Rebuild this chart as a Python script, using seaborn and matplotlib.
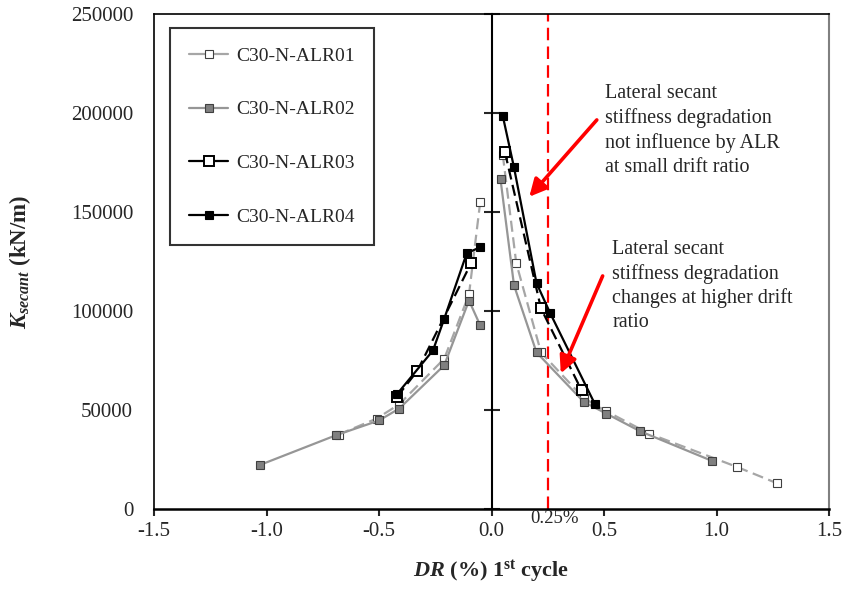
import numpy as np
import pandas as pd
import matplotlib
matplotlib.use("Agg")
import matplotlib.pyplot as plt
from matplotlib.lines import Line2D
import seaborn as sns

# ---------------- data ----------------
series_names = ["C30-N-ALR01", "C30-N-ALR02", "C30-N-ALR03", "C30-N-ALR04"]

alr01_neg_dr = [-0.68, -0.51, -0.41, -0.21, -0.10, -0.05]
alr01_neg_k = [37600, 45700, 52900, 75900, 108400, 155200]
alr01_pos_dr = [0.05, 0.11, 0.22, 0.41, 0.51, 0.70, 1.09, 1.27]
alr01_pos_k = [179000, 124200, 79100, 56000, 49400, 38100, 21300, 12950]

alr02_neg_dr = [-1.03, -0.69, -0.50, -0.41, -0.21, -0.10, -0.05]
alr02_neg_k = [22200, 37300, 44700, 50750, 72600, 105300, 92700]
alr02_pos_dr = [0.04, 0.10, 0.20, 0.41, 0.51, 0.66, 0.98]
alr02_pos_k = [166500, 113000, 79100, 54100, 48200, 39300, 24300]

alr03_neg_dr = [-0.42, -0.33, -0.09]
alr03_neg_k = [56600, 69700, 124300]
alr03_pos_dr = [0.06, 0.22, 0.40]
alr03_pos_k = [180100, 101300, 60000]

alr04_neg_dr = [-0.42, -0.26, -0.21, -0.11, -0.05]
alr04_neg_k = [58000, 80100, 96100, 129200, 132200]
alr04_pos_dr = [0.05, 0.10, 0.20, 0.26, 0.46]
alr04_pos_k = [198600, 172500, 114100, 99100, 52900]

x_ticks = [-1.5, -1.0, -0.5, 0.0, 0.5, 1.0, 1.5]
y_ticks = [0, 50000, 100000, 150000, 200000, 250000]
limit_dr = 0.25

note1 = "Lateral secant\nstiffness degradation\nnot influence by ALR\nat small drift ratio"
note2 = "Lateral secant\nstiffness degradation\nchanges at higher drift\nratio"


def branch_frame(neg_x, neg_y, pos_x, pos_y):
    return pd.DataFrame({
        "DR": list(neg_x) + list(pos_x),
        "K": list(neg_y) + list(pos_y),
        "branch": ["neg"] * len(neg_x) + ["pos"] * len(pos_x),
    })


frames = [
    branch_frame(alr01_neg_dr, alr01_neg_k, alr01_pos_dr, alr01_pos_k),
    branch_frame(alr02_neg_dr, alr02_neg_k, alr02_pos_dr, alr02_pos_k),
    branch_frame(alr03_neg_dr, alr03_neg_k, alr03_pos_dr, alr03_pos_k),
    branch_frame(alr04_neg_dr, alr04_neg_k, alr04_pos_dr, alr04_pos_k),
]

# ---------------- style ----------------
sns.set_style("white")
plt.rcParams["font.family"] = ["Liberation Serif", "DejaVu Serif"]
plt.rcParams["mathtext.fontset"] = "custom"
plt.rcParams["mathtext.rm"] = "Liberation Serif:bold"
plt.rcParams["mathtext.it"] = "Liberation Serif:italic:bold"
plt.rcParams["mathtext.bf"] = "Liberation Serif:bold"
plt.rcParams["lines.scale_dashes"] = False
plt.rcParams["lines.dashed_pattern"] = [8.0, 4.0]

styles = [
    dict(color="#A6A6A6", linestyle="--", marker="s", markersize=5.5,
         markerfacecolor="white", markeredgecolor="#404040", markeredgewidth=0.8),
    dict(color="#969696", linestyle="-", marker="s", markersize=5.5,
         markerfacecolor="#808080", markeredgecolor="#404040", markeredgewidth=0.8),
    dict(color="black", linestyle="--", marker="s", markersize=6.5,
         markerfacecolor="white", markeredgecolor="black", markeredgewidth=1.4),
    dict(color="black", linestyle="-", marker="s", markersize=5.5,
         markerfacecolor="black", markeredgecolor="black", markeredgewidth=0.8),
]

fig = plt.figure(figsize=(8.44, 5.90), dpi=100)
ax = fig.add_axes([154 / 844, 1 - 509 / 590, 675 / 844, 495 / 590])

ax.axvline(limit_dr, color="red", lw=1.6, dashes=(9, 4.5), zorder=1)

for df, st in zip(frames, styles):
    sns.lineplot(data=df, x="DR", y="K", units="branch", estimator=None,
                 sort=False, ax=ax, lw=1.6, zorder=3, **st)

ax.set_xlim(-1.5, 1.5)
ax.set_ylim(0, 250000)
ax.set_xticks(x_ticks)
ax.set_xticklabels([f"{v:.1f}" for v in x_ticks])
ax.set_yticks(y_ticks)
ax.set_yticklabels([f"{v:d}" for v in y_ticks])
ax.tick_params(axis="x", direction="out", length=5, width=1.5, pad=4,
               labelsize=15, bottom=True)
ax.tick_params(axis="y", length=0, pad=15, labelsize=15, left=True)

for side in ["left", "top"]:
    ax.spines[side].set_color("black")
    ax.spines[side].set_linewidth(1.2)
ax.spines["right"].set_color("#808080")
ax.spines["right"].set_linewidth(1.5)
ax.spines["bottom"].set_color("black")
ax.spines["bottom"].set_linewidth(1.8)

# y axis drawn through DR = 0 with crossing ticks
secax = ax.secondary_yaxis(0.5)
secax.set_yticks(y_ticks)
secax.tick_params(direction="inout", length=11, width=1.5,
                  labelleft=False, labelright=False)
secax.spines["left"].set_linewidth(1.5)
secax.spines["left"].set_color("black")
secax.spines["right"].set_linewidth(1.5)
secax.spines["right"].set_color("black")

ax.set_xlabel(r"$DR$ (%) 1$^{\mathrm{st}}$ cycle", fontsize=16,
              fontweight="bold", labelpad=13)
ax.set_ylabel(r"$K_{secant}$ (kN/m)", fontsize=16.5, fontweight="bold",
              labelpad=27)

ax.text(limit_dr + 0.03, -500, "0.25%", ha="center", va="top", fontsize=13.5)

# annotations
ax.annotate("", xy=(0.168, 157700), xytext=(0.468, 196500),
            arrowprops=dict(arrowstyle="-|>", color="red", lw=2.6,
                            mutation_scale=26, shrinkA=0, shrinkB=0))
ax.annotate("", xy=(0.308, 68500), xytext=(0.494, 117700),
            arrowprops=dict(arrowstyle="-|>", color="red", lw=2.6,
                            mutation_scale=26, shrinkA=0, shrinkB=0))
ax.text(0.505, 214500, note1, ha="left", va="top", fontsize=14.5,
        linespacing=1.33)
ax.text(0.537, 136000, note2, ha="left", va="top", fontsize=14.5,
        linespacing=1.33)

# legend (handles drawn with solid lines, as in the reference)
handles = []
for name, st in zip(series_names, styles):
    h = dict(st)
    h["linestyle"] = "-"
    handles.append(Line2D([0], [0], lw=1.6, **h))
leg = ax.legend(handles, series_names, loc="upper left",
                bbox_to_anchor=(0.0237, 0.972), fontsize=14,
                labelspacing=1.85, handlelength=2.0, handletextpad=0.4,
                borderpad=1.0, borderaxespad=0.0, frameon=True, fancybox=False)
leg.get_frame().set_edgecolor("black")
leg.get_frame().set_linewidth(1.5)

fig.savefig("out.png", dpi=100)
